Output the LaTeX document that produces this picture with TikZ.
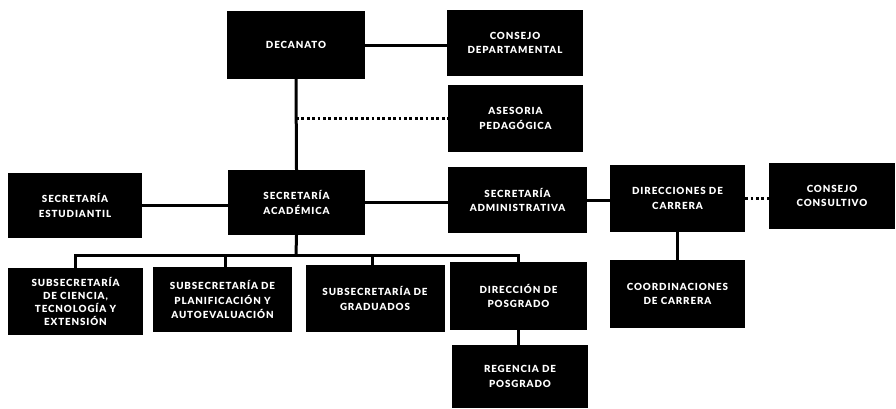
\documentclass[tikz,border=0pt]{standalone}
\usepackage{fontspec}
\setmainfont{Lato}[BoldFont={Lato Black}, LetterSpace=9]
\begin{document}
\begin{tikzpicture}[x=1pt,y=-1pt,
  orgbox/.style={fill=black, text=white, font=\bfseries\fontsize{9.8}{14.5}\selectfont, align=center, inner sep=0pt},
  link/.style={line width=3pt, black},
  dotlink/.style={line width=3pt, black, dash pattern=on 2.8pt off 2.6pt}]
\useasboundingbox (0,0) rectangle (896,408);
\node[orgbox, minimum width=138pt, minimum height=68pt] (dec) at (296,45) {DECANATO};
\node[orgbox, minimum width=136pt, minimum height=66pt] (cdep) at (515,43) {CONSEJO\\DEPARTAMENTAL};
\node[orgbox, minimum width=135pt, minimum height=67pt] (ases) at (515.5,118.5) {ASESORIA\\PEDAGÓGICA};
\node[orgbox, minimum width=134pt, minimum height=65pt] (est) at (75,205.5) {SECRETARÍA\\ESTUDIANTIL};
\node[orgbox, minimum width=137pt, minimum height=65pt] (aca) at (296.5,202.5) {SECRETARÍA\\ACADÉMICA};
\node[orgbox, minimum width=139pt, minimum height=66pt] (adm) at (517.5,200) {SECRETARÍA\\ADMINISTRATIVA};
\node[orgbox, minimum width=135pt, minimum height=67pt] (dir) at (677.5,198.5) {DIRECCIONES DE\\CARRERA};
\node[orgbox, minimum width=126pt, minimum height=66pt] (ccon) at (832,196) {CONSEJO\\CONSULTIVO};
\node[orgbox, minimum width=135pt, minimum height=67pt, font=\bfseries\fontsize{9.8}{13.3}\selectfont] (s1) at (75.5,301.5) {SUBSECRETARÍA\\DE CIENCIA,\\TECNOLOGÍA Y\\EXTENSIÓN};
\node[orgbox, minimum width=139pt, minimum height=65pt] (s2) at (222.5,299.5) {SUBSECRETARÍA DE\\PLANIFICACIÓN Y\\AUTOEVALUACIÓN};
\node[orgbox, minimum width=139pt, minimum height=67pt] (s3) at (375,298.5) {SUBSECRETARÍA DE\\GRADUADOS};
\node[orgbox, minimum width=137pt, minimum height=68pt] (dpos) at (518.5,296) {DIRECCIÓN DE\\POSGRADO};
\node[orgbox, minimum width=135pt, minimum height=68pt] (coor) at (677.5,294) {COORDINACIONES\\DE CARRERA};
\node[orgbox, minimum width=136pt, minimum height=63pt] (reg) at (520,376.5) {REGENCIA DE\\POSGRADO};
\coordinate (bus) at (296,255);
\draw[link] (dec.east) -- (dec.east -| cdep.west);
\draw[link] (dec.south) -- (aca.north);
\draw[dotlink] (ases.west -| dec.south) -- (ases.west);
\draw[link] (est.east) -- (est.east -| aca.west);
\draw[link] (aca.east) -- (aca.east -| adm.west);
\draw[link] (adm.east) -- (adm.east -| dir.west);
\draw[dotlink] (dir.east) -- (dir.east -| ccon.west);
\draw[link] (dir.south) -- (coor.north);
\draw[link] (dpos.south) -- (dpos.south |- reg.north);
\draw[link] (aca.south) -- (bus);
\draw[link] (s1.north) -- (s1.north |- bus) -- (dpos.north |- bus) -- (dpos.north);
\draw[link] ([xshift=2.5pt]s2.north) -- ([xshift=2.5pt]s2.north |- bus);
\draw[link] ([xshift=-3pt]s3.north) -- ([xshift=-3pt]s3.north |- bus);
\end{tikzpicture}
\end{document}
